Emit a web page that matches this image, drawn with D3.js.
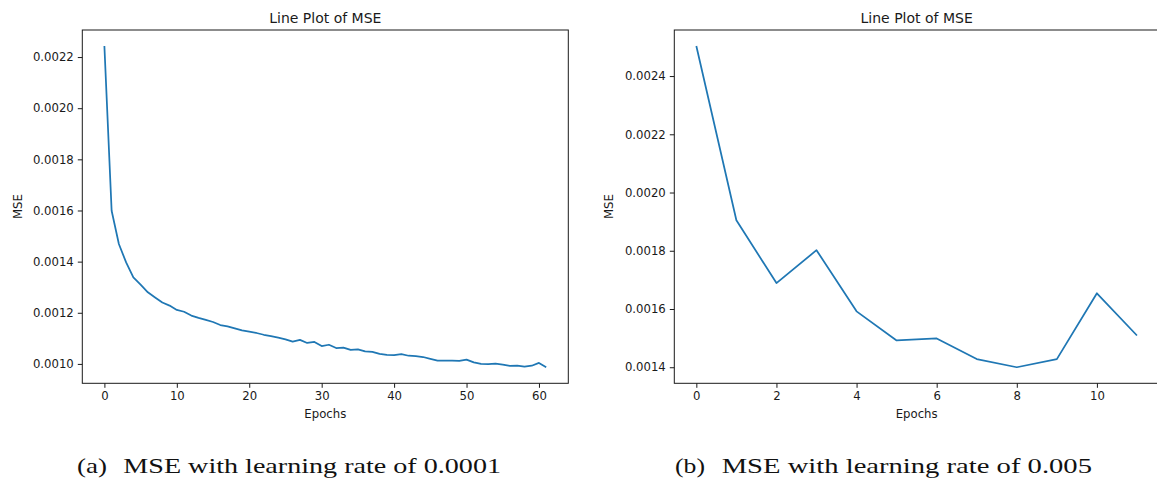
<!DOCTYPE html>
<html>
<head>
<meta charset="utf-8">
<script src="https://cdn.jsdelivr.net/npm/d3@7"></script>
<style>
  body { margin: 0; background: #fff; }
  svg { display: block; }
</style>
</head>
<body>
<div id="chart"></div>
<script>
// MSE per epoch, lr = 0.0001 (62 epochs)
const mseSlowLr = [
  0.002243, 0.001599, 0.001469, 0.001397, 0.001338, 0.00131, 0.00128, 0.00126,
  0.00124, 0.001228, 0.001211, 0.001204, 0.001189, 0.00118, 0.001172, 0.001164,
  0.001152, 0.001147, 0.001139, 0.001131, 0.001126, 0.001121, 0.001114, 0.001109,
  0.001103, 0.001096, 0.001087, 0.001094, 0.001082, 0.001086, 0.00107, 0.001075,
  0.001062, 0.001064, 0.001055, 0.001057, 0.001049, 0.001047, 0.001039, 0.001035,
  0.001034, 0.001038, 0.001032, 0.00103, 0.001027, 0.00102, 0.001013, 0.001013,
  0.001013, 0.001012, 0.001017, 0.001006, 0.001, 0.000999, 0.001001, 0.000997,
  0.000992, 0.000993, 0.000989, 0.000993, 0.001004, 0.000987
];
// MSE per epoch, lr = 0.005 (12 epochs)
const mseFastLr = [
  0.002503, 0.001905, 0.001689, 0.001802, 0.001592, 0.001492,
  0.001499, 0.001428, 0.0014, 0.001428, 0.001654, 0.001509
];

const xTicksA = [0, 10, 20, 30, 40, 50, 60];
const yTicksA = [0.0010, 0.0012, 0.0014, 0.0016, 0.0018, 0.0020, 0.0022];
const xTicksB = [0, 2, 4, 6, 8, 10];
const yTicksB = [0.0014, 0.0016, 0.0018, 0.0020, 0.0022, 0.0024];

const titles = ["Line Plot of MSE", "Line Plot of MSE"];
const captionTags = ["(a)", "(b)"];
const captionTexts = ["MSE with learning rate of 0.0001", "MSE with learning rate of 0.005"];

const width = 1157;
const height = 482;
const sans = "'DejaVu Sans', sans-serif";
const serif = "'Liberation Serif', 'Times New Roman', serif";
const ink = "#1a1a1a";

const svg = d3.select("#chart")
  .append("svg")
  .attr("width", width)
  .attr("height", height)
  .attr("viewBox", [0, 0, width, height]);

// panel boxes (pixel layout of each axes)
const panels = [
  { data: mseSlowLr, xt: xTicksA, yt: yTicksA, left: 82.3, right: 568.3, ylabX: 21.5,
    tagX: 77, textX: 123.3, textLen: 377.7 },
  { data: mseFastLr, xt: xTicksB, yt: yTicksB, left: 674.3, right: 1159, ylabX: 613,
    tagX: 675, textX: 721.7, textLen: 370.3 }
];
const plotTop = 30, plotBottom = 383.3;

// matplotlib-like 5% margins
function padded(lo, hi) {
  const m = (hi - lo) * 0.05;
  return [lo - m, hi + m];
}

panels.forEach((p, i) => {
  const n = p.data.length;
  const x = d3.scaleLinear().domain(padded(0, n - 1)).range([p.left, p.right]);
  const y = d3.scaleLinear().domain(padded(d3.min(p.data), d3.max(p.data))).range([plotBottom, plotTop]);

  const g = svg.append("g");

  // line
  g.append("path")
    .datum(p.data)
    .attr("fill", "none")
    .attr("stroke", "#1f77b4")
    .attr("stroke-width", 1.75)
    .attr("stroke-linejoin", "round")
    .attr("d", d3.line().x((d, j) => x(j)).y((d) => y(d)));

  // frame
  g.append("rect")
    .attr("x", p.left)
    .attr("y", plotTop)
    .attr("width", p.right - p.left)
    .attr("height", plotBottom - plotTop)
    .attr("fill", "none")
    .attr("stroke", ink)
    .attr("stroke-width", 1);

  // axes
  const xAxis = g.append("g")
    .attr("transform", `translate(0,${plotBottom})`)
    .call(d3.axisBottom(x).tickValues(p.xt).tickFormat(d3.format("d")).tickSize(4.5).tickPadding(4));
  const yAxis = g.append("g")
    .attr("transform", `translate(${p.left},0)`)
    .call(d3.axisLeft(y).tickValues(p.yt).tickFormat(d3.format(".4f")).tickSize(4.5).tickPadding(4));

  [xAxis, yAxis].forEach((a) => {
    a.select(".domain").remove();
    a.selectAll("line").attr("stroke", ink);
    a.selectAll("text")
      .attr("fill", ink)
      .style("font-family", sans)
      .style("font-size", "11.7px");
  });

  // title
  g.append("text")
    .attr("x", (p.left + p.right) / 2)
    .attr("y", 23)
    .attr("text-anchor", "middle")
    .attr("fill", ink)
    .style("font-family", sans)
    .style("font-size", "14px")
    .text(titles[i]);

  // axis labels
  g.append("text")
    .attr("x", (p.left + p.right) / 2)
    .attr("y", 418)
    .attr("text-anchor", "middle")
    .attr("fill", ink)
    .style("font-family", sans)
    .style("font-size", "11.7px")
    .text("Epochs");

  g.append("text")
    .attr("transform", `translate(${p.ylabX},${(plotTop + plotBottom) / 2}) rotate(-90)`)
    .attr("text-anchor", "middle")
    .attr("fill", ink)
    .style("font-family", sans)
    .style("font-size", "11.7px")
    .text("MSE");

  // caption under the panel
  g.append("text")
    .attr("x", p.tagX)
    .attr("y", 473)
    .attr("fill", "#111")
    .attr("textLength", 30)
    .attr("lengthAdjust", "spacingAndGlyphs")
    .style("font-family", serif)
    .style("font-size", "22px")
    .text(captionTags[i]);
  g.append("text")
    .attr("x", p.textX)
    .attr("y", 473)
    .attr("fill", "#111")
    .attr("textLength", p.textLen)
    .attr("lengthAdjust", "spacingAndGlyphs")
    .style("font-family", serif)
    .style("font-size", "22px")
    .text(captionTexts[i]);
});
</script>
</body>
</html>
